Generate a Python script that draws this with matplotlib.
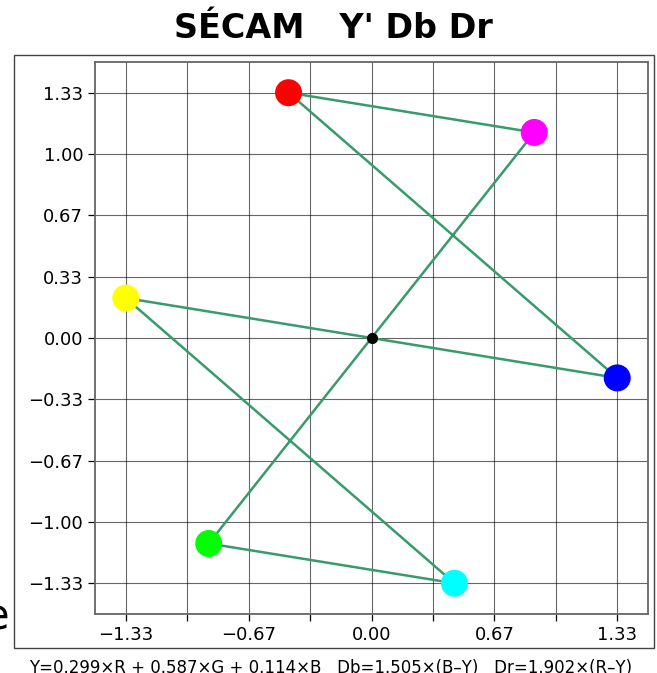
import numpy as np
import matplotlib.pyplot as plt
from matplotlib.patches import Rectangle

# colour points in the Db / Dr plane
names = ["red", "magenta", "green", "cyan", "yellow", "blue"]
colors = ["#ff0000", "#ff00ff", "#00ff00", "#00ffff", "#ffff00", "#0000ff"]
db = [-0.450, 0.883, -0.883, 0.450, -1.333, 1.333]
dr = [1.333, 1.117, -1.117, -1.333, 0.217, -0.217]

# path drawn between the points (closed loop)
order = [0, 1, 2, 3, 4, 5, 0]

ticks = [-4/3, -1, -2/3, -1/3, 0, 1/3, 2/3, 1, 4/3]
xlabels = ["\u22121.33", "", "\u22120.67", "", "0.00", "", "0.67", "", "1.33"]
ylabels = ["\u22121.33", "\u22121.00", "\u22120.67", "\u22120.33", "0.00",
           "0.33", "0.67", "1.00", "1.33"]

fig = plt.figure(figsize=(6.57, 6.73), dpi=100)

# outer frame
fig.patches.append(Rectangle((0.0213, 0.0371), 0.9741, 0.8812,
                             transform=fig.transFigure, fill=False,
                             edgecolor="#444444", lw=1.0))

ax = fig.add_axes([0.1446, 0.0877, 0.8417, 0.8202])
ax.set_xlim(-1.5, 1.5)
ax.set_ylim(-1.5, 1.5)

ax.plot([db[i] for i in order], [dr[i] for i in order],
        color="#379b6b", lw=1.8, zorder=2)
ax.scatter(db, dr, s=340, c=colors, zorder=3)
ax.plot(0, 0, "o", color="black", ms=7, zorder=4)

ax.set_xticks(ticks)
ax.set_xticklabels(xlabels)
ax.set_yticks(ticks)
ax.set_yticklabels(ylabels)
ax.tick_params(labelsize=13, length=5, width=0.9)
ax.grid(True, color="black", alpha=0.6, lw=0.8)
ax.set_axisbelow(True)
for s in ax.spines.values():
    s.set_color("#666666")
    s.set_linewidth(1.3)

fig.text(0.507, 0.958, "S\u00c9CAM   Y' Db Dr", ha="center", va="center",
         fontsize=24, fontweight="bold")
fig.text(0.503, 0.0215,
         "Y=0.299\u00d7R + 0.587\u00d7G + 0.114\u00d7B   Db=1.505\u00d7(B\u2013Y)   Dr=1.902\u00d7(R\u2013Y)",
         ha="center", va="top", fontsize=12)
fig.text(-16 / 657, 1 - 630 / 673, "e", ha="left", va="baseline", fontsize=30)

fig.savefig("out.png", dpi=100)
